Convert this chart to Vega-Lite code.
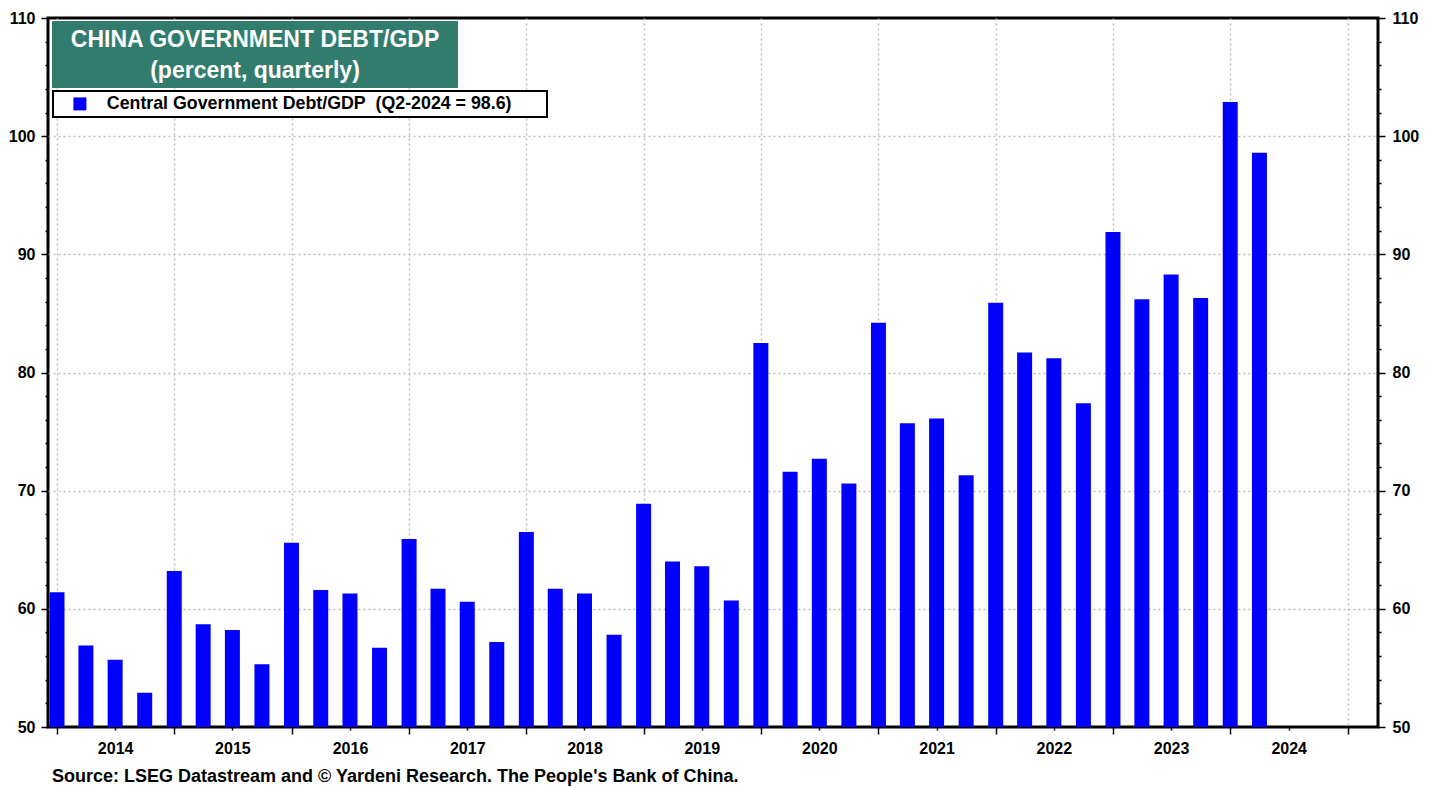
{
  "$schema": "https://vega.github.io/schema/vega-lite/v6.json",
  "width": 1330,
  "height": 709,
  "autosize": {"type": "none"},
  "padding": {"left": 48, "top": 18, "right": 61, "bottom": 60},
  "background": "white",
  "config": {
    "font": "Liberation Sans",
    "view": {"stroke": "black", "strokeWidth": 3},
    "axis": {
      "labelFont": "Liberation Sans",
      "labelFontWeight": "bold",
      "labelFontSize": 16,
      "labelColor": "black",
      "tickColor": "black",
      "tickWidth": 1.5,
      "domain": false,
      "gridColor": "#bdbdbd",
      "gridDash": [2, 3],
      "gridWidth": 1.5,
      "labelFlush": false,
      "labelOverlap": false
    }
  },
  "title": {
    "text": "Source: LSEG Datastream and © Yardeni Research. The People's Bank of China.",
    "orient": "bottom",
    "anchor": "start",
    "frame": "group",
    "dx": 4,
    "offset": 8,
    "font": "Liberation Sans",
    "fontSize": 18,
    "fontWeight": "bold",
    "color": "black"
  },
  "data": {
    "values": [
      {"date": "2014-01-01", "value": 61.4},
      {"date": "2014-04-01", "value": 56.9},
      {"date": "2014-07-01", "value": 55.7},
      {"date": "2014-10-01", "value": 52.9},
      {"date": "2015-01-01", "value": 63.2},
      {"date": "2015-04-01", "value": 58.7},
      {"date": "2015-07-01", "value": 58.2},
      {"date": "2015-10-01", "value": 55.3},
      {"date": "2016-01-01", "value": 65.6},
      {"date": "2016-04-01", "value": 61.6},
      {"date": "2016-07-01", "value": 61.3},
      {"date": "2016-10-01", "value": 56.7},
      {"date": "2017-01-01", "value": 65.9},
      {"date": "2017-04-01", "value": 61.7},
      {"date": "2017-07-01", "value": 60.6},
      {"date": "2017-10-01", "value": 57.2},
      {"date": "2018-01-01", "value": 66.5},
      {"date": "2018-04-01", "value": 61.7},
      {"date": "2018-07-01", "value": 61.3},
      {"date": "2018-10-01", "value": 57.8},
      {"date": "2019-01-01", "value": 68.9},
      {"date": "2019-04-01", "value": 64.0},
      {"date": "2019-07-01", "value": 63.6},
      {"date": "2019-10-01", "value": 60.7},
      {"date": "2020-01-01", "value": 82.5},
      {"date": "2020-04-01", "value": 71.6},
      {"date": "2020-07-01", "value": 72.7},
      {"date": "2020-10-01", "value": 70.6},
      {"date": "2021-01-01", "value": 84.2},
      {"date": "2021-04-01", "value": 75.7},
      {"date": "2021-07-01", "value": 76.1},
      {"date": "2021-10-01", "value": 71.3},
      {"date": "2022-01-01", "value": 85.9},
      {"date": "2022-04-01", "value": 81.7},
      {"date": "2022-07-01", "value": 81.2},
      {"date": "2022-10-01", "value": 77.4},
      {"date": "2023-01-01", "value": 91.9},
      {"date": "2023-04-01", "value": 86.2},
      {"date": "2023-07-01", "value": 88.3},
      {"date": "2023-10-01", "value": 86.3},
      {"date": "2024-01-01", "value": 102.9},
      {"date": "2024-04-01", "value": 98.6}
    ]
  },
  "layer": [
    {
      "mark": {"type": "bar", "width": 15, "color": "#0000ff", "clip": true},
      "encoding": {
        "x": {
          "field": "date",
          "type": "temporal",
          "scale": {
            "type": "utc",
            "nice": false,
            "padding": 0,
            "domain": [
              {"year": 2013, "month": 12, "date": 4, "utc": true},
              {"year": 2025, "month": 4, "date": 5, "utc": true}
            ]
          },
          "axis": {
            "orient": "bottom",
            "title": null,
            "values": [
              {"year": 2014, "quarter": 1, "utc": true}, {"year": 2014, "quarter": 2, "utc": true}, {"year": 2014, "quarter": 3, "utc": true}, {"year": 2014, "quarter": 4, "utc": true},
              {"year": 2015, "quarter": 1, "utc": true}, {"year": 2015, "quarter": 2, "utc": true}, {"year": 2015, "quarter": 3, "utc": true}, {"year": 2015, "quarter": 4, "utc": true},
              {"year": 2016, "quarter": 1, "utc": true}, {"year": 2016, "quarter": 2, "utc": true}, {"year": 2016, "quarter": 3, "utc": true}, {"year": 2016, "quarter": 4, "utc": true},
              {"year": 2017, "quarter": 1, "utc": true}, {"year": 2017, "quarter": 2, "utc": true}, {"year": 2017, "quarter": 3, "utc": true}, {"year": 2017, "quarter": 4, "utc": true},
              {"year": 2018, "quarter": 1, "utc": true}, {"year": 2018, "quarter": 2, "utc": true}, {"year": 2018, "quarter": 3, "utc": true}, {"year": 2018, "quarter": 4, "utc": true},
              {"year": 2019, "quarter": 1, "utc": true}, {"year": 2019, "quarter": 2, "utc": true}, {"year": 2019, "quarter": 3, "utc": true}, {"year": 2019, "quarter": 4, "utc": true},
              {"year": 2020, "quarter": 1, "utc": true}, {"year": 2020, "quarter": 2, "utc": true}, {"year": 2020, "quarter": 3, "utc": true}, {"year": 2020, "quarter": 4, "utc": true},
              {"year": 2021, "quarter": 1, "utc": true}, {"year": 2021, "quarter": 2, "utc": true}, {"year": 2021, "quarter": 3, "utc": true}, {"year": 2021, "quarter": 4, "utc": true},
              {"year": 2022, "quarter": 1, "utc": true}, {"year": 2022, "quarter": 2, "utc": true}, {"year": 2022, "quarter": 3, "utc": true}, {"year": 2022, "quarter": 4, "utc": true},
              {"year": 2023, "quarter": 1, "utc": true}, {"year": 2023, "quarter": 2, "utc": true}, {"year": 2023, "quarter": 3, "utc": true}, {"year": 2023, "quarter": 4, "utc": true},
              {"year": 2024, "quarter": 1, "utc": true}, {"year": 2024, "quarter": 2, "utc": true}, {"year": 2024, "quarter": 3, "utc": true}, {"year": 2024, "quarter": 4, "utc": true},
              {"year": 2025, "quarter": 1, "utc": true}
            ],
            "labelExpr": "utcmonth(datum.value) == 6 ? utcFormat(datum.value, '%Y') : ''",
            "tickSize": {"condition": {"test": "utcmonth(datum.value) == 0", "value": 7}, "value": 3},
            "gridOpacity": {"condition": {"test": "utcmonth(datum.value) == 0", "value": 1}, "value": 0},
            "labelPadding": 10
          }
        },
        "y": {
          "field": "value",
          "type": "quantitative",
          "scale": {"domain": [50, 110], "nice": false, "zero": false},
          "axis": {
            "orient": "left",
            "title": null,
            "values": [50, 52, 54, 56, 58, 60, 62, 64, 66, 68, 70, 72, 74, 76, 78, 80, 82, 84, 86, 88, 90, 92, 94, 96, 98, 100, 102, 104, 106, 108, 110],
            "labelExpr": "datum.value % 10 == 0 ? datum.label : ''",
            "tickSize": {"condition": {"test": "datum.value % 10 == 0", "value": 7}, "value": 3},
            "gridOpacity": {"condition": {"test": "datum.value % 10 == 0 && datum.value > 50 && datum.value < 110", "value": 1}, "value": 0},
            "labelPadding": 6
          }
        },
        "color": {
          "datum": "Central Government Debt/GDP\u00a0 (Q2-2024 = 98.6)",
          "scale": {"range": ["#0000ff"]},
          "legend": {
            "orient": "none",
            "legendX": 5,
            "legendY": 73,
            "title": ".",
            "titleOrient": "right",
            "titleColor": "white",
            "titleFontSize": 1,
            "titlePadding": 31,
            "fillColor": "white",
            "strokeColor": "black",
            "padding": 4,
            "symbolType": "square",
            "symbolSize": 169,
            "symbolStrokeWidth": 0,
            "symbolOffset": 14,
            "labelOffset": 18,
            "labelFont": "Liberation Sans",
            "labelFontSize": 17.8,
            "labelFontWeight": "bold",
            "labelColor": "black",
            "labelLimit": 800,
            "encode": {"legend": {"update": {"strokeWidth": {"value": 2}}}}
          }
        }
      }
    },
    {
      "mark": {"type": "point", "opacity": 0},
      "encoding": {
        "x": {"field": "date", "type": "temporal"},
        "y": {
          "field": "value",
          "type": "quantitative",
          "axis": {
            "orient": "right",
            "title": null,
            "grid": false,
            "values": [50, 52, 54, 56, 58, 60, 62, 64, 66, 68, 70, 72, 74, 76, 78, 80, 82, 84, 86, 88, 90, 92, 94, 96, 98, 100, 102, 104, 106, 108, 110],
            "labelExpr": "datum.value % 10 == 0 ? datum.label : ''",
            "tickSize": {"condition": {"test": "datum.value % 10 == 0", "value": 7}, "value": 3},
            "labelPadding": 7
          }
        },
        "shape": {
          "datum": "title",
          "legend": {
            "orient": "none",
            "legendX": 4,
            "legendY": 3,
            "title": ["CHINA GOVERNMENT DEBT/GDP", "(percent, quarterly)"],
            "titleFont": "Liberation Sans",
            "titleFontSize": 23,
            "titleFontWeight": "bold",
            "titleColor": "white",
            "titleAlign": "center",
            "titleAnchor": "middle",
            "titleLineHeight": 31,
            "titleBaseline": "line-top",
            "titleLimit": 800,
            "titlePadding": 0,
            "fillColor": "#317c6d",
            "strokeColor": "#317c6d",
            "padding": 4,
            "symbolSize": 1,
            "symbolOpacity": 0,
            "symbolStrokeWidth": 0,
            "symbolOffset": 392,
            "labelExpr": "''",
            "labelFontSize": 1
          }
        }
      }
    }
  ],
  "resolve": {"axis": {"y": "independent"}}
}
